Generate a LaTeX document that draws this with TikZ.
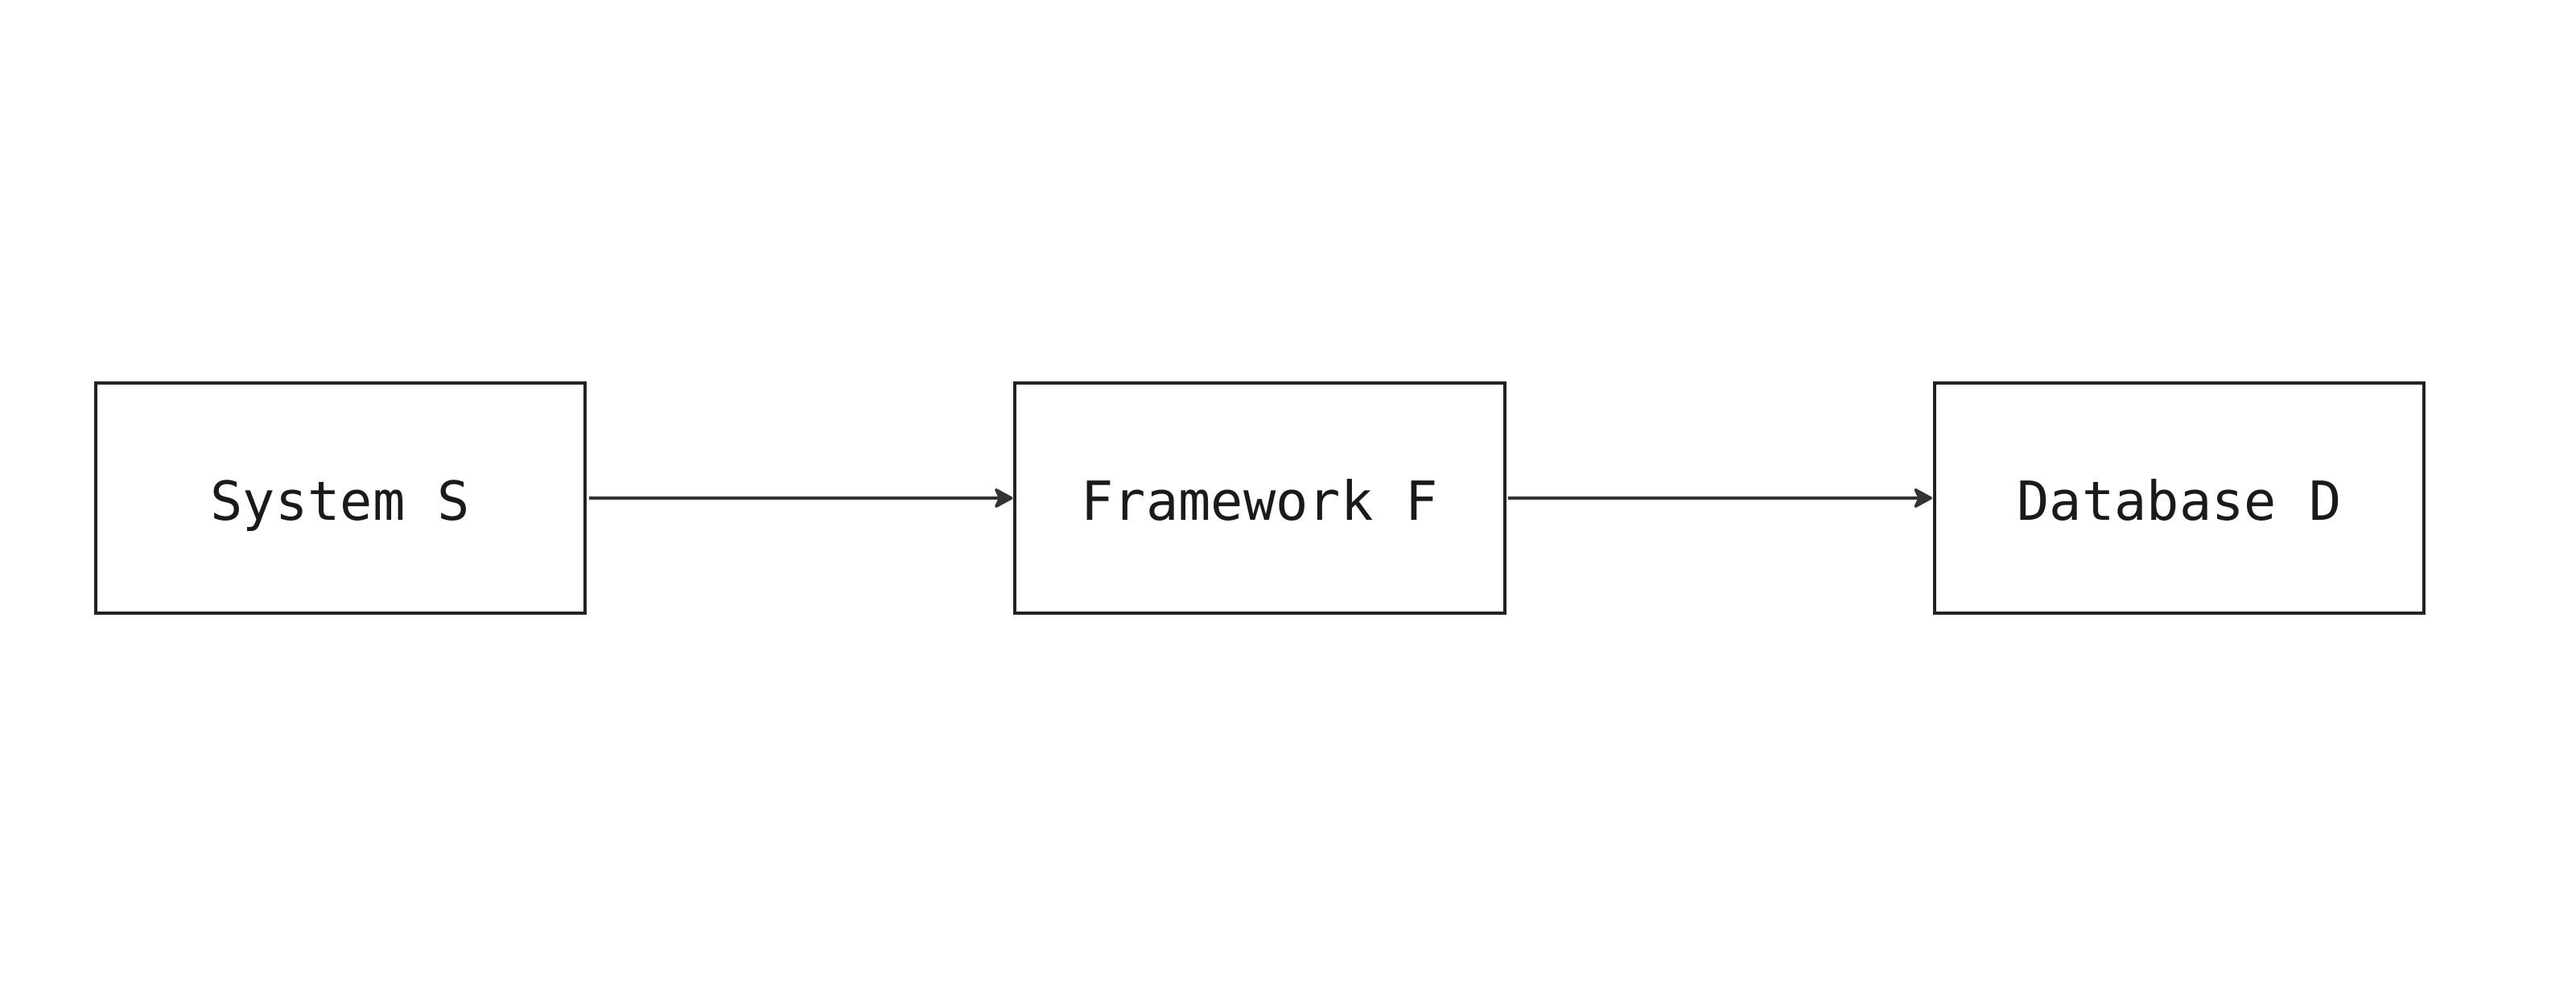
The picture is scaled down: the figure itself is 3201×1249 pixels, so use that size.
\documentclass[tikz,border=0pt]{standalone}
\usepackage{fontspec}
\newfontfamily\diagmono{DejaVu Sans Mono}
\usetikzlibrary{arrows.meta}
\definecolor{boxline}{HTML}{222222}
\definecolor{arrowline}{HTML}{333333}
\definecolor{labeltext}{HTML}{1A1A1A}
\begin{document}
\begin{tikzpicture}[x=0.25pt,y=-0.25pt,
  blockbox/.style={draw=boxline, line width=1pt, fill=white,
    minimum width=152.1pt, minimum height=71.6pt, inner sep=0pt,
    text height=13.95pt, text depth=0pt,
    font=\diagmono\fontsize{16.75pt}{20pt}\selectfont, text=labeltext},
  flowarrow/.style={draw=arrowline, line width=0.85pt,
    -{Stealth[length=6.5pt, width=7pt, inset=1.6pt, round]}}
]
\useasboundingbox (0,0) rectangle (3201,1249);
\node[blockbox] (sys) at (423,619) {System S};
\node[blockbox] (fw)  at (1565.5,619) {Framework F};
\node[blockbox] (db)  at (2708,619) {Database D};
\draw[flowarrow] ([xshift=0.6pt]sys.east) -- ([xshift=-0.2pt]fw.west);
\draw[flowarrow] ([xshift=0.6pt]fw.east) -- ([xshift=-0.2pt]db.west);
\end{tikzpicture}
\end{document}
